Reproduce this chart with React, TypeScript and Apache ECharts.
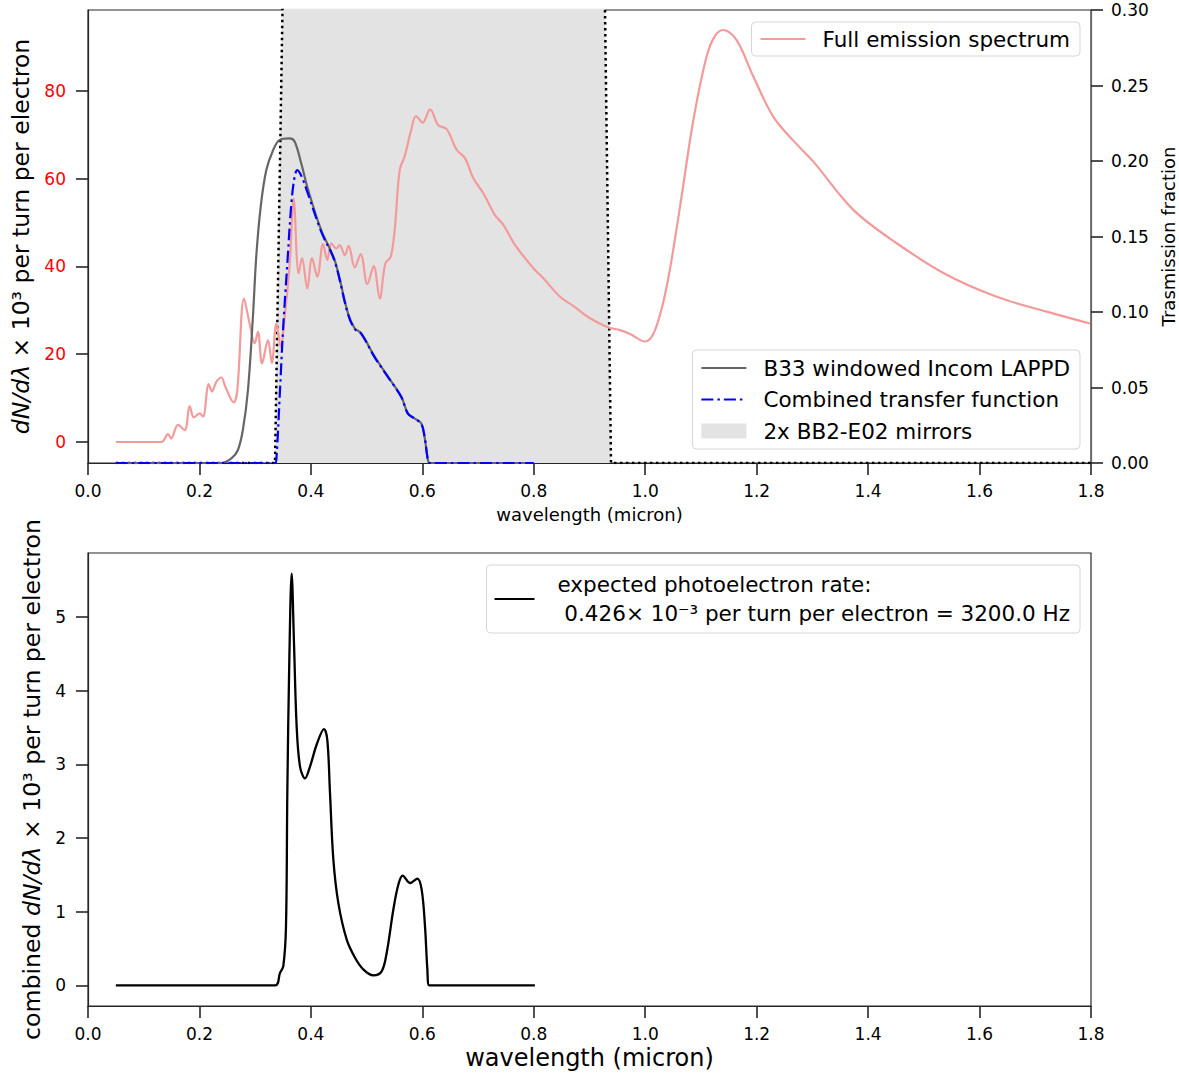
import React, { useEffect, useRef } from 'react';
import * as echarts from 'echarts';

const FONT = 'DejaVu Sans';

// ---------- data ----------
const wavelengthTicks = [0, 0.2, 0.4, 0.6, 0.8, 1.0, 1.2, 1.4, 1.6, 1.8];
const emissionTicks = [0, 20, 40, 60, 80];
const rateTicks = [0, 1, 2, 3, 4, 5];

const emissionName = 'Full emission spectrum';
const b33Name = 'B33 windowed Incom LAPPD';
const combinedName = 'Combined transfer function';
const mirrorName = '2x BB2-E02 mirrors';
const rateName = 'expected photoelectron rate:\n 0.426× 10⁻³ per turn per electron = 3200.0 Hz';

// Full emission spectrum (left axis, dN/dλ ×10³)
const emissionSpectrum: [number, number][] = [
  [0.05, 0], [0.1316, 0], [0.1436, 1.8], [0.149, 0.8], [0.1615, 3.9], [0.1735, 2.7],
  [0.1825, 8.2], [0.19, 5.6], [0.2004, 6.5], [0.2064, 5.8], [0.2166, 13.2], [0.2225, 11.5],
  [0.2303, 13.7], [0.2393, 14.7], [0.2465, 12.6], [0.2614, 9.0], [0.268, 11.9], [0.28, 32.7],
  [0.29, 27.0], [0.299, 22.5], [0.305, 25.1], [0.3123, 17.9], [0.323, 23.2], [0.33, 18.0],
  [0.338, 27.0], [0.3458, 21.7], [0.353, 28.6], [0.362, 40.7], [0.369, 55.5], [0.378, 38.4],
  [0.384, 41.9], [0.3936, 35.0], [0.402, 41.9], [0.4115, 37.7], [0.4218, 45.1], [0.4295, 41.5],
  [0.4367, 45.3], [0.4457, 44.1], [0.4517, 44.9], [0.4607, 42.6], [0.4678, 44.7], [0.4786, 39.8],
  [0.4894, 42.8], [0.5013, 36.0], [0.5127, 40.1], [0.5235, 32.7], [0.5336, 40.7], [0.5432, 42.2],
  [0.5504, 48.3], [0.5594, 62.0], [0.568, 65.0], [0.58, 71.1], [0.5887, 74.3], [0.6006, 72.8],
  [0.6138, 75.8], [0.6287, 72.2], [0.6437, 71.3], [0.6617, 66.6], [0.6766, 64.7], [0.6915, 60.1],
  [0.7095, 56.7], [0.7304, 51.7], [0.7454, 49.5], [0.7663, 44.9], [0.7993, 39.6], [0.8172, 37.3],
  [0.8471, 33.1], [0.871, 31.0], [0.901, 28.2], [0.9338, 26.1], [0.9548, 25.5], [0.9727, 24.6],
  [0.9996, 22.9], [1.0176, 25.5], [1.0385, 35.4], [1.0624, 53.6], [1.0864, 73.4], [1.11, 87.8],
  [1.125, 92.5], [1.14, 93.9], [1.164, 91.6], [1.194, 83.3], [1.23, 74.1], [1.265, 68.8],
  [1.3017, 63.9], [1.3735, 52.9], [1.4513, 45.3], [1.541, 38.1], [1.6308, 33.1], [1.7205, 29.7],
  [1.798, 27.0],
];

// B33 windowed Incom LAPPD (right axis, transmission fraction)
const b33Transmission: [number, number][] = [
  [0.05, 0], [0.239, 0], [0.2573, 0.003], [0.269, 0.0086], [0.278, 0.022], [0.287, 0.048],
  [0.296, 0.097], [0.302, 0.137], [0.31, 0.17], [0.32, 0.194], [0.332, 0.207], [0.344, 0.214],
  [0.362, 0.215], [0.371, 0.2128], [0.383, 0.198], [0.395, 0.181], [0.4187, 0.154],
  [0.4427, 0.1344], [0.4666, 0.0991], [0.4786, 0.0892], [0.4905, 0.0859], [0.5145, 0.0704],
  [0.5384, 0.0572], [0.5623, 0.0439], [0.574, 0.0329], [0.586, 0.0296], [0.598, 0.0263],
  [0.604, 0.0174], [0.61, 0.002], [0.613, 0], [0.8, 0],
];

// Combined transfer function (right axis)
const combinedTransfer: [number, number][] = [
  [0.05, 0], [0.3356, 0], [0.338, 0.002], [0.344, 0.044], [0.35, 0.088], [0.3577, 0.132],
  [0.365, 0.172], [0.371, 0.19], [0.3756, 0.194], [0.383, 0.19], [0.395, 0.178],
  [0.4187, 0.153], [0.4427, 0.1335], [0.4666, 0.0985], [0.4786, 0.0888], [0.4905, 0.0855],
  [0.5145, 0.07], [0.5384, 0.0569], [0.5623, 0.0437], [0.574, 0.0327], [0.586, 0.0294],
  [0.598, 0.0261], [0.604, 0.0173], [0.61, 0.002], [0.613, 0], [0.8, 0],
];

// 2x BB2-E02 mirrors (right axis, clipped above 0.30)
const mirrorTransmission: [number, number][] = [
  [0.05, 0], [0.3356, 0], [0.3794, 0.98], [0.9034, 0.98], [0.9386, 0], [1.8, 0],
];

// combined photoelectron spectrum (bottom panel)
const photoelectronRate: [number, number][] = [
  [0.05, 0], [0.3356, 0], [0.3446, 0.17], [0.3505, 0.26], [0.3553, 0.8], [0.3577, 2.61],
  [0.3613, 4.42], [0.3655, 5.59], [0.3697, 4.64], [0.3745, 3.51], [0.3805, 2.97], [0.3894, 2.81],
  [0.3984, 2.97], [0.4104, 3.27], [0.4235, 3.48], [0.4295, 3.33], [0.4343, 2.61], [0.4403, 1.71],
  [0.4492, 1.12], [0.4643, 0.62], [0.4792, 0.375], [0.494, 0.217], [0.512, 0.135], [0.527, 0.19],
  [0.536, 0.44], [0.548, 1.03], [0.557, 1.37], [0.5648, 1.49], [0.5779, 1.39], [0.591, 1.45],
  [0.5988, 1.3], [0.6048, 0.8], [0.609, 0.22], [0.6125, 0], [0.802, 0],
];

// ---------- styling helpers ----------
const AX = '#262626';
const tickStyle = { show: true, inside: false, length: 12, lineStyle: { color: AX, width: 1.6 } };
const lineAx = { show: true, onZero: false, lineStyle: { color: AX, width: 1.2 } };
const labelBase = { fontFamily: FONT, fontSize: 17, color: '#000' };
const legendBox = {
  orient: 'vertical',
  right: 99,
  backgroundColor: 'rgba(255,255,255,0.85)',
  borderColor: '#d6d6d6',
  borderWidth: 1,
  borderRadius: 4,
};
const hiddenSymbol = { opacity: 0 };

export default function App() {
  const ref = useRef<HTMLDivElement>(null);

  useEffect(() => {
    if (!ref.current) return;
    const chart = echarts.init(ref.current, null, { renderer: 'svg' });

    const xAxisCommon = (gridIndex: number, nameSize: number, gap: number) => ({
      type: 'value',
      gridIndex,
      min: 0,
      max: 1.8,
      interval: 0.2,
      name: 'wavelength (micron)',
      nameLocation: 'middle',
      nameGap: gap,
      nameTextStyle: { fontFamily: FONT, fontSize: nameSize, color: '#000' },
      axisLine: lineAx,
      axisTick: tickStyle,
      splitLine: { show: false },
      axisLabel: {
        ...labelBase,
        margin: 19,
        customValues: wavelengthTicks,
        formatter: (v: number) => v.toFixed(1),
      },
    });

    const gridBase = {
      left: 88, right: 88, height: 453, show: true, borderColor: AX, borderWidth: 1.2,
      backgroundColor: 'transparent', containLabel: false, outerBoundsMode: 'none',
    };

    const option: any = {
      animation: false,
      backgroundColor: '#fff',
      grid: [
        { ...gridBase, top: 10 },
        { ...gridBase, top: 553 },
      ],
      xAxis: [xAxisCommon(0, 18, 42), xAxisCommon(1, 24, 40)],
      yAxis: [
        {
          type: 'value',
          gridIndex: 0,
          position: 'left',
          min: -4.79,
          max: 98.46,
          name: '{i|dN/dλ} × 10³ per turn per electron',
          nameLocation: 'middle',
          nameRotate: 90,
          nameGap: 54,
          nameTextStyle: {
            fontFamily: FONT, fontSize: 23.5, color: '#000',
            rich: { i: { fontFamily: FONT, fontSize: 23.5, fontStyle: 'italic', color: '#000' } },
          },
          axisLine: lineAx,
          axisTick: { ...tickStyle, customValues: emissionTicks },
          splitLine: { show: false },
          axisLabel: { ...labelBase, color: '#ff0000', margin: 22, customValues: emissionTicks },
        },
        {
          type: 'value',
          gridIndex: 0,
          position: 'right',
          min: 0,
          max: 0.3,
          interval: 0.05,
          name: 'Trasmission fraction',
          nameLocation: 'middle',
          nameRotate: 90,
          nameGap: 57,
          nameTextStyle: { fontFamily: FONT, fontSize: 18, color: '#000' },
          axisLine: { show: true, onZero: false, lineStyle: { color: '#666', width: 1.2 } },
          axisTick: tickStyle,
          splitLine: { show: false },
          axisLabel: { ...labelBase, margin: 20, formatter: (v: number) => v.toFixed(2) },
        },
        {
          type: 'value',
          gridIndex: 1,
          position: 'left',
          min: -0.28,
          max: 5.87,
          name: 'combined {i|dN/dλ} × 10³ per turn per electron',
          nameLocation: 'middle',
          nameRotate: 90,
          nameGap: 40,
          nameTextStyle: {
            fontFamily: FONT, fontSize: 23.6, color: '#000',
            rich: { i: { fontFamily: FONT, fontSize: 23.6, fontStyle: 'italic', color: '#000' } },
          },
          axisLine: lineAx,
          axisTick: { ...tickStyle, customValues: rateTicks },
          splitLine: { show: false },
          axisLabel: { ...labelBase, margin: 22, customValues: rateTicks },
        },
      ],
      legend: [
        {
          ...legendBox,
          data: [{ name: emissionName, itemStyle: hiddenSymbol }],
          top: 22,
          itemWidth: 45,
          itemHeight: 14,
          padding: [6, 10, 6, 8],
          textStyle: { fontFamily: FONT, fontSize: 21.5, color: '#000', padding: [0, 0, 0, 12] },
        },
        {
          ...legendBox,
          data: [
            { name: b33Name, itemStyle: hiddenSymbol },
            { name: combinedName, itemStyle: hiddenSymbol },
            { name: mirrorName, icon: 'rect', itemStyle: { color: '#e3e3e3', borderWidth: 0, opacity: 1 } },
          ],
          top: 350,
          itemGap: 9.5,
          itemWidth: 45,
          itemHeight: 15,
          padding: [7, 10, 7, 8],
          textStyle: { fontFamily: FONT, fontSize: 21.5, color: '#000', padding: [0, 0, 0, 12] },
        },
        {
          ...legendBox,
          data: [{ name: rateName, itemStyle: hiddenSymbol }],
          top: 565,
          itemWidth: 40,
          itemHeight: 14,
          padding: [5, 10, 5, 7],
          textStyle: { fontFamily: FONT, fontSize: 21.5, color: '#000', lineHeight: 29, padding: [0, 0, 0, 18] },
        },
      ],
      series: [
        {
          name: mirrorName,
          type: 'line',
          xAxisIndex: 0,
          yAxisIndex: 1,
          data: mirrorTransmission,
          symbol: 'none',
          clip: true,
          z: 1,
          color: '#e3e3e3',
          lineStyle: { color: '#000', width: 2.5, type: [2.5, 3.5] },
          areaStyle: { color: '#e3e3e3', opacity: 1 },
        },
        {
          name: emissionName,
          type: 'line',
          xAxisIndex: 0,
          yAxisIndex: 0,
          data: emissionSpectrum,
          symbol: 'none',
          smooth: 0.35,
          z: 2,
          color: '#f39a9a',
          lineStyle: { color: '#f39a9a', width: 2.2 },
        },
        {
          name: b33Name,
          type: 'line',
          xAxisIndex: 0,
          yAxisIndex: 1,
          data: b33Transmission,
          symbol: 'none',
          smooth: 0.35,
          z: 3,
          color: '#666666',
          lineStyle: { color: '#666666', width: 2.2 },
        },
        {
          name: combinedName,
          type: 'line',
          xAxisIndex: 0,
          yAxisIndex: 1,
          data: combinedTransfer,
          symbol: 'none',
          smooth: 0.35,
          z: 4,
          color: '#0000ff',
          lineStyle: { color: '#0000ff', width: 2.2, type: [12, 4, 2.5, 4] },
        },
        {
          name: rateName,
          type: 'line',
          xAxisIndex: 1,
          yAxisIndex: 2,
          data: photoelectronRate,
          symbol: 'none',
          smooth: 0.35,
          z: 3,
          color: '#000',
          lineStyle: { color: '#000', width: 2.3 },
        },
      ],
    };

    chart.setOption(option);
    return () => chart.dispose();
  }, []);

  return (
    <div
      ref={ref}
      style={{ position: 'absolute', left: 0, top: 0, width: 1179, height: 1076, background: '#fff' }}
    />
  );
}
